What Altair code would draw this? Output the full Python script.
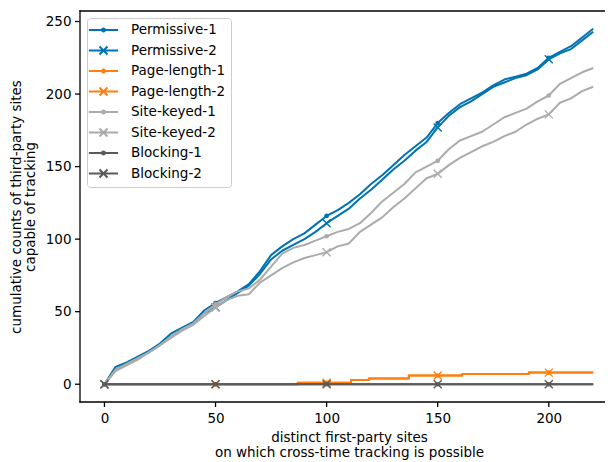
import altair as alt
import pandas as pd

# ---------------- data ----------------
x_grid = [0, 5, 10, 15, 20, 25, 30, 35, 40, 45, 50, 55, 60, 65, 70, 75, 80, 85, 90, 95,
          100, 105, 110, 115, 120, 125, 130, 135, 140, 145, 150, 155, 160, 165, 170, 175,
          180, 185, 190, 195, 200, 205, 210, 215, 220]

permissive_1 = [0, 12, 15, 19, 23, 28, 35, 39, 43, 51, 56, 60, 64, 69, 78, 89, 95, 100, 104, 110,
                116, 120, 125, 131, 138, 144, 151, 158, 164, 170, 180, 187, 193, 197, 201, 206,
                210, 212, 214, 218, 225, 229, 233, 239, 245]
permissive_2 = [0, 10, 14, 18, 22, 27, 33, 38, 42, 49, 53, 58, 63, 68, 76, 86, 92, 96, 100, 105,
                111, 116, 121, 128, 134, 141, 148, 154, 161, 167, 177, 185, 191, 195, 200, 205,
                208, 211, 213, 217, 224, 228, 231, 237, 243]
site_keyed_1 = [0, 10, 14, 18, 22, 27, 33, 38, 42, 49, 55, 60, 64, 66, 72, 81, 90, 94, 96, 99,
                102, 105, 107, 111, 118, 126, 132, 138, 146, 150, 154, 162, 168, 171, 174, 179,
                184, 187, 190, 195, 199, 207, 211, 215, 218]
site_keyed_2 = [0, 9, 13, 17, 22, 27, 32, 37, 41, 47, 53, 58, 61, 62, 70, 75, 80, 84, 87, 89,
                91, 95, 97, 105, 110, 115, 122, 128, 135, 142, 145, 151, 156, 160, 164, 167,
                171, 174, 179, 183, 186, 194, 197, 202, 205]

page_length_x = [0, 50, 87, 100, 111, 119, 137, 150, 161, 191, 200, 220]
page_length_1 = [0, 0, 1, 1, 3, 4, 6, 6, 7, 8, 8, 8]
page_length_2 = [0, 0, 1, 1, 3, 4, 6, 6, 7, 8, 8, 8]

blocking_x = [0, 50, 100, 150, 200, 220]
blocking_1 = [0, 0, 0, 0, 0, 0]
blocking_2 = [0, 0, 0, 0, 0, 0]

series_names = ["Permissive-1", "Permissive-2", "Page-length-1", "Page-length-2",
                "Site-keyed-1", "Site-keyed-2", "Blocking-1", "Blocking-2"]
series_x = [x_grid, x_grid, page_length_x, page_length_x, x_grid, x_grid, blocking_x, blocking_x]
series_y = [permissive_1, permissive_2, page_length_1, page_length_2,
            site_keyed_1, site_keyed_2, blocking_1, blocking_2]
colors = ["#0173b2", "#0173b2", "#ff7f0e", "#ff7f0e", "#ababab", "#ababab", "#5a5a5a", "#5a5a5a"]
marker_x = [0, 50, 100, 150, 200]

x_ticks = [0, 50, 100, 150, 200]
y_ticks = [0, 50, 100, 150, 200, 250]
x_title = ["distinct first-party sites", "on which cross-time tracking is possible"]
y_title = ["cumulative counts of third-party sites", "capable of tracking"]

rows = []
for name, xs, ys in zip(series_names, series_x, series_y):
    for xv, yv in zip(xs, ys):
        rows.append({"series": name, "x": xv, "y": yv})
df = pd.DataFrame(rows)

# ---------------- chart ----------------
W, H = 525, 391
FONT = "DejaVu Sans"
FS = 13.5
SPINE = 1.3
TICK = 5

xscale = alt.Scale(domain=[-11, 225.3], nice=False, zero=False)
yscale = alt.Scale(domain=[-12.25, 257.25], nice=False, zero=False)
xaxis = alt.Axis(values=x_ticks, title=x_title, titleX=269, titleY=28, titleBaseline="top",
                 titleAlign="center", titleLineHeight=15, grid=False,
                 domain=False, ticks=True, tickOpacity=0, tickSize=TICK)
yaxis = alt.Axis(values=y_ticks, title=y_title, titleX=-64, titleY=195.5, titleAngle=270,
                 titleBaseline="middle", titleAlign="center", titleLineHeight=14.5, grid=False,
                 domain=False, ticks=True, tickOpacity=0, tickSize=TICK)

X_PATH = "M-1,-1L1,1M-1,1L1,-1"
# legend symbols: short line with the marker in its middle (size 144 -> 6 px per unit)
LINE_DOT = "M-2.44,0H2.44M-0.25,0A0.25,0.25,0,1,0,0.25,0A0.25,0.25,0,1,0,-0.25,0"
LINE_X = "M-2.44,0H2.44M-0.67,-0.67L0.67,0.67M-0.67,0.67L0.67,-0.67"
legend_shapes = [LINE_DOT if n.endswith("-1") else LINE_X for n in series_names]

base = alt.Chart(df)
layers = []
for i, name in enumerate(series_names):
    sub = base.transform_filter(alt.datum.series == name)
    interp = "step-after" if name.startswith("Page") else "linear"
    line = sub.mark_line(color=colors[i], strokeWidth=2, interpolate=interp,
                         strokeJoin="round").encode(
        x=alt.X("x:Q", scale=xscale, axis=xaxis),
        y=alt.Y("y:Q", scale=yscale, axis=yaxis),
    )
    mk = sub.transform_filter(alt.FieldOneOfPredicate(field="x", oneOf=marker_x))
    if name.endswith("-1"):
        m = mk.mark_point(shape="circle", filled=True, size=22, color=colors[i], opacity=1)
    else:
        m = mk.mark_point(shape=X_PATH, filled=False, size=64, strokeWidth=1.4,
                          color=colors[i], opacity=1)
    m = m.encode(x=alt.X("x:Q", scale=xscale, axis=xaxis), y=alt.Y("y:Q", scale=yscale, axis=yaxis))
    layers += [line, m]

legend_def = alt.Legend(title=None, orient="none", legendX=7, legendY=7,
                        labelFont=FONT, labelFontSize=FS, labelColor="black",
                        symbolSize=144, symbolStrokeWidth=2, symbolOffset=4.5,
                        labelOffset=20.5, padding=5, rowPadding=4.5,
                        fillColor="rgba(255,255,255,0.8)", strokeColor="#cccccc",
                        cornerRadius=3)

legend_layer = base.transform_filter("false").mark_point(
    filled=False, opacity=1, strokeWidth=2
).encode(
    x=alt.X("x:Q", scale=xscale, axis=xaxis),
    y=alt.Y("y:Q", scale=yscale, axis=yaxis),
    color=alt.Color("series:N", scale=alt.Scale(domain=series_names, range=colors),
                    legend=legend_def),
    shape=alt.Shape("series:N", scale=alt.Scale(domain=series_names, range=legend_shapes),
                    legend=legend_def),
)

# spines (left, bottom, top) drawn as thin rectangles
one = pd.DataFrame({"a": [0]})
h = SPINE / 2
left_spine = alt.Chart(one).mark_rect(color="black").encode(
    x=alt.value(-h), x2=alt.value(h), y=alt.value(-h), y2=alt.value(H + h))
bottom_spine = alt.Chart(one).mark_rect(color="black").encode(
    x=alt.value(-h), x2=alt.value(W), y=alt.value(H - h), y2=alt.value(H + h))
top_spine = alt.Chart(one).mark_rect(color="black").encode(
    x=alt.value(-h), x2=alt.value(W), y=alt.value(-h), y2=alt.value(h))

# tick marks
xtick_layer = alt.Chart(pd.DataFrame({"x": x_ticks})).mark_tick(
    color="black", thickness=SPINE, size=TICK, opacity=1, orient="vertical"
).encode(x=alt.X("x:Q", scale=xscale, axis=xaxis), y=alt.value(H + TICK / 2))
ytick_layer = alt.Chart(pd.DataFrame({"y": y_ticks})).mark_tick(
    color="black", thickness=SPINE, size=TICK, opacity=1, orient="horizontal"
).encode(y=alt.Y("y:Q", scale=yscale, axis=yaxis), x=alt.value(-TICK / 2))

chart = alt.layer(*layers, legend_layer, left_spine, bottom_spine, top_spine,
                  xtick_layer, ytick_layer).properties(
    width=W, height=H,
    autosize=alt.AutoSizeParams(type="none"),
    padding={"left": 72, "top": 3, "right": 0, "bottom": 58},
).configure_view(stroke=None).configure_axis(
    labelFont=FONT, labelFontSize=FS, labelColor="black",
    titleFont=FONT, titleFontSize=FS, titleColor="black", titleFontWeight="normal",
    labelPadding=4,
)

chart.save("out.html", embed_options={"renderer": "svg", "actions": False})
